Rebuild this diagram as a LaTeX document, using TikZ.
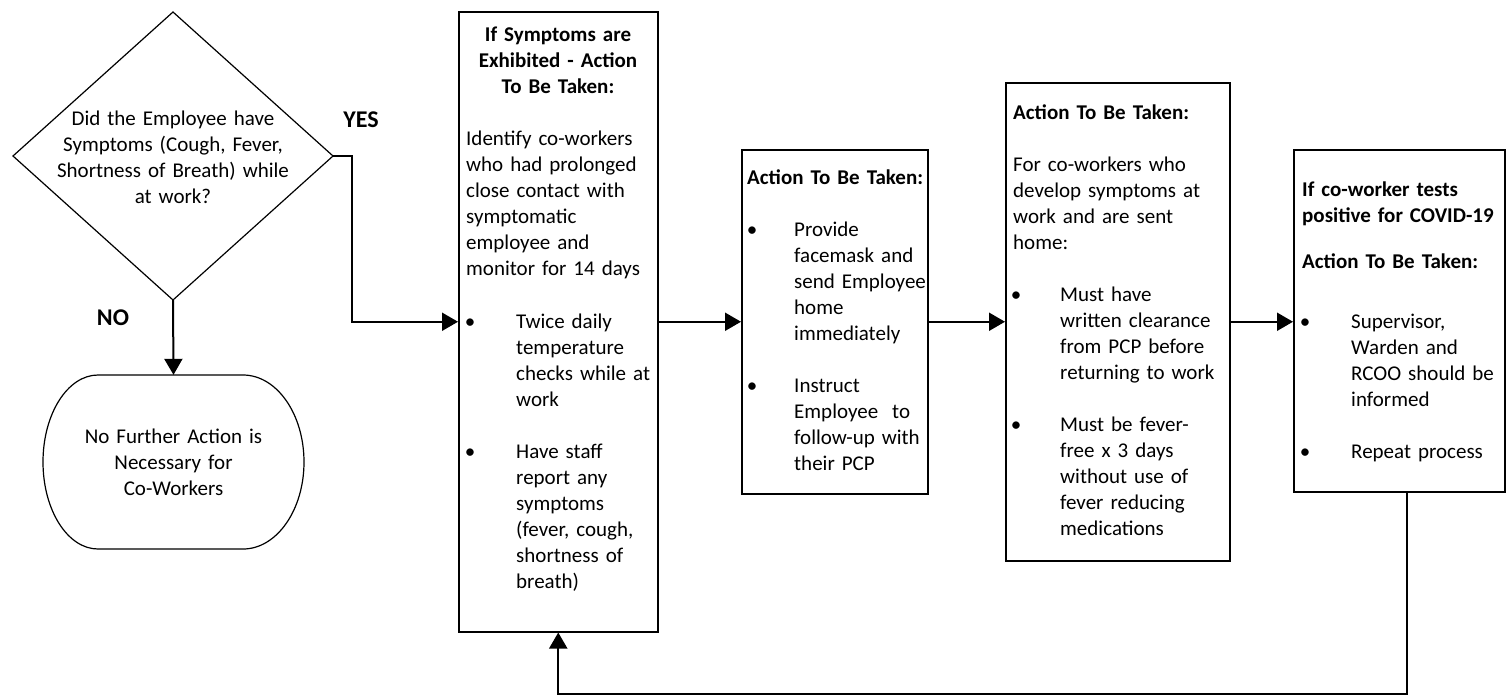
\documentclass[tikz,border=0pt]{standalone}
\usepackage{fontspec}
\setmainfont{Carlito}
\usetikzlibrary{arrows.meta}
\tikzset{
  box/.style={draw, line width=1.5pt, inner sep=0pt, anchor=north west},
  txt/.style={inner sep=0pt, anchor=base west, align=left, font=\fontsize{21}{26}\selectfont},
  btxt/.style={txt, font=\fontsize{21}{26}\selectfont\bfseries},
  bul/.style={inner sep=0pt, anchor=base, font=\fontsize{21}{26}\selectfont},
  conn/.style={line width=2pt, -{Triangle[length=16pt,width=18pt]}},
  lbl/.style={inner sep=0pt, font=\fontsize{24}{28}\selectfont\bfseries}
}
\begin{document}
\begin{tikzpicture}[x=1pt,y=1pt]
\useasboundingbox (0,0) rectangle (1506,-694);

% decision diamond
\coordinate (dN) at (173,-12);
\coordinate (dE) at (333,-156);
\coordinate (dS) at (173,-300);
\coordinate (dW) at (13,-156);
\draw[line width=1.2pt] (dN) -- (dE) -- (dS) -- (dW) -- cycle;
\node[txt, anchor=base, align=center, text width=270pt] (dq) at (173,-125)
  {Did the Employee have\\Symptoms (Cough, Fever,\\Shortness of Breath) while\\at work?};

\node[lbl] (yes) at (361,-120) {YES};
\node[lbl] (no) at (113,-318) {NO};

% terminal
\node[inner sep=0pt, minimum width=261pt, minimum height=174pt, text width=240pt, align=center,
      font=\fontsize{21}{26}\selectfont] (term) at (173.5,-462)
  {No Further Action is\\Necessary for\\Co-Workers};
\draw[line width=1.2pt] (98,-375) -- (243,-375)
  arc[start angle=90, end angle=-90, x radius=61pt, y radius=87pt]
  -- (98,-549)
  arc[start angle=270, end angle=90, x radius=55pt, y radius=87pt] -- cycle;

% boxes
\node[box, minimum width=199pt, minimum height=620pt] (b1) at (458,-11) {};
\node[box, minimum width=186pt, minimum height=344pt] (b2) at (741,-149) {};
\node[box, minimum width=224pt, minimum height=478pt] (b3) at (1005,-82) {};
\node[box, minimum width=211pt, minimum height=342pt] (b4) at (1293,-149) {};

% box 1 text
\node[btxt, anchor=base, align=center, text width=195pt] (b1h) at (558,-41)
  {If Symptoms are\\Exhibited - Action\\To Be Taken:};
\node[txt, text width=190pt] (b1p) at (466,-145)
  {Identify co-workers\\who had prolonged\\close contact with\\symptomatic\\employee and\\monitor for 14 days};
\node[bul] (b1b1) at (470,-328) {•};
\node[txt, text width=140pt] (b1t1) at (516,-328)
  {Twice daily\\temperature\\checks while at\\work};
\node[bul] (b1b2) at (470,-458) {•};
\node[txt, text width=140pt] (b1t2) at (516,-458)
  {Have staff\\report any\\symptoms\\(fever, cough,\\shortness of\\breath)};

% box 2 text
\node[btxt, text width=180pt] (b2h) at (747,-184) {Action To Be Taken:};
\node[bul] (b2b1) at (752,-236) {•};
\node[txt, text width=135pt] (b2t1) at (794,-236)
  {Provide\\facemask and\\send Employee\\home\\immediately};
\node[bul] (b2b2) at (752,-392) {•};
\node[txt, text width=135pt] (b2t2) at (794,-392)
  {Instruct\\Employee\ \ to\\follow-up with\\their PCP};

% box 3 text
\node[btxt, text width=210pt] (b3h) at (1013,-119) {Action To Be Taken:};
\node[txt, text width=210pt] (b3p) at (1013,-171)
  {For co-workers who\\develop symptoms at\\work and are sent\\home:};
\node[bul] (b3b1) at (1016,-301) {•};
\node[txt, text width=165pt] (b3t1) at (1060,-301)
  {Must have\\written clearance\\from PCP before\\returning to work};
\node[bul] (b3b2) at (1016,-431) {•};
\node[txt, text width=165pt] (b3t2) at (1060,-431)
  {Must be fever-\\free x 3 days\\without use of\\fever reducing\\medications};

% box 4 text
\node[btxt, text width=200pt] (b4h) at (1302,-196)
  {If co-worker tests\\positive for COVID-19};
\node[btxt, text width=200pt] (b4a) at (1302,-268) {Action To Be Taken:};
\node[bul] (b4b1) at (1305,-328) {•};
\node[txt, text width=150pt] (b4t1) at (1351,-328)
  {Supervisor,\\Warden and\\RCOO should be\\informed};
\node[bul] (b4b2) at (1305,-458) {•};
\node[txt, text width=150pt] (b4t2) at (1351,-458) {Repeat process};

% connectors
\draw[conn] (dS) -- (term.north);
\draw[conn] (dE) -- ++(19,0) |- (b1.west);
\draw[conn] (b1.east) -- (b1.east -| b2.west);
\draw[conn] (b2.east) -- (b2.east -| b3.west);
\draw[conn] (b3.east) -- (b3.east -| b4.west);
\draw[conn] ([xshift=7.5pt]b4.south) -- ++(0,-201) -| (b1.south);
\end{tikzpicture}
\end{document}
